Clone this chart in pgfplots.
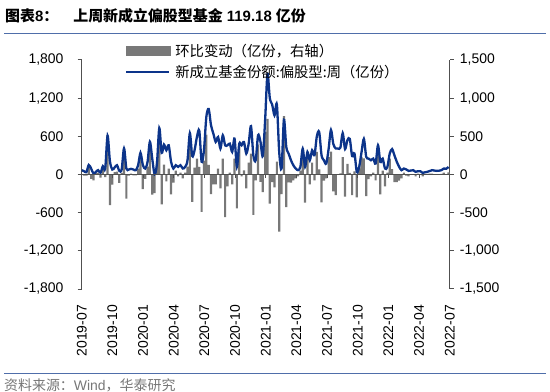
\documentclass[border=0pt]{standalone}
\usepackage{pgfplots}
\pgfplotsset{compat=1.18}
\usepackage{pgfplotstable}
\usepackage{fontspec}
\setmainfont{Liberation Sans}
\newfontfamily\cjk{Noto Sans CJK SC}
\definecolor{navy}{RGB}{12,52,138}
\definecolor{bargrey}{RGB}{120,120,120}
\definecolor{axgrey}{RGB}{80,80,80}
\definecolor{rulecol}{RGB}{79,110,170}
\definecolor{srcgrey}{RGB}{118,118,118}

\pgfplotstableread{
i v d
0 68 0
1 52 -16
2 37 -15
3 150 113
4 94 -56
5 16 -78
6 42 26
7 68 26
8 26 -42
9 130 104
10 94 -36
11 610 516
12 210 -400
13 78 -132
14 110 32
15 146 36
16 57 -110
17 78 21
18 410 332
19 94 -316
20 78 -16
21 89 11
22 78 -11
23 68 -10
24 146 78
25 340 194
26 150 -190
27 94 -56
28 198 104
29 515 317
30 250 -265
31 5 -245
32 172 167
33 730 558
34 340 -390
35 470 130
36 381 -89
37 459 78
38 200 -259
39 94 -106
40 146 52
41 120 -26
42 146 26
43 94 -52
44 120 26
45 224 104
46 650 426
47 290 -360
48 381 91
49 590 209
50 690 100
51 200 -490
52 381 181
53 903 522
54 1030 127
55 773 -257
56 642 -131
57 512 -130
58 590 78
59 407 -183
60 616 209
61 459 -560
62 459 -157
63 485 26
64 355 -130
65 564 209
66 120 -444
67 485 365
68 459 -26
69 512 53
70 329 -183
71 485 156
72 760 275
73 300 -530
74 224 -76
75 616 392
76 520 -96
77 290 -230
78 850 560
79 1580 730
80 1200 -380
81 1100 -100
82 930 -170
83 1100 170
84 350 -750
85 94 -256
86 860 766
87 433 -427
88 329 -104
89 224 -105
90 146 -78
91 94 -52
92 68 -26
93 120 52
94 407 287
95 120 -370
96 355 235
97 224 -131
98 381 157
99 303 -78
100 600 297
101 668 68
102 303 -365
103 224 -79
104 172 -52
105 400 228
106 700 300
107 480 -220
108 410 -270
109 407 -3
110 423 16
111 650 227
112 400 -290
113 540 140
114 560 20
115 290 -270
116 330 40
117 40 -300
118 120 80
119 350 230
120 560 210
121 277 -283
122 250 -60
123 224 -26
124 250 26
125 172 -78
126 460 288
127 198 -262
128 250 52
129 94 -156
130 120 26
131 329 209
132 400 71
133 300 -100
134 200 -100
135 120 -80
136 68 -52
137 94 26
138 80 -14
139 57 -23
140 62 5
141 68 6
142 42 -26
143 52 10
144 52 0
145 26 -26
146 35 9
147 42 7
148 55 13
149 68 13
150 62 -6
151 57 -5
152 60 3
153 68 8
154 94 26
155 90 -4
156 119 29
}\data

\begin{document}
\begin{tikzpicture}
\useasboundingbox (0,0) rectangle (550bp,392bp);
\node[anchor=west, inner sep=0pt, font=\fontsize{15}{18}\selectfont] at (5bp,376bp)
  {{\cjk\bfseries 图表}{\bfseries 8}{\cjk\bfseries ：}\hspace{15bp}{\cjk\bfseries 上周新成立偏股型基金} {\bfseries 119.18} {\cjk\bfseries 亿份}};
\draw[rulecol, line width=1.2bp] (4bp,358.7bp) -- (546bp,358.7bp);
\draw[rulecol, line width=1bp] (4bp,18.4bp) -- (546bp,18.4bp);
\node[anchor=west, inner sep=0pt, text=srcgrey, font=\fontsize{14}{16}\selectfont] at (4bp,7bp)
  {{\cjk 资料来源：}Wind{\cjk ，华泰研究}};

\begin{axis}[
  at={(81.7bp,103bp)}, anchor=south west, width=368bp, height=229bp, scale only axis,
  xmin=0, xmax=156.5, ymin=-1500, ymax=1500,
  axis y line*=right, axis x line=none,
  ybar, bar width=2.2bp,
  ytick={-1500,-1000,-500,0,500,1000,1500},
  yticklabels={{-1,500},{-1,000},{-500},0,500,{1,000},{1,500}},
  y axis line style={axgrey, line width=1bp},
  major tick style={axgrey, line width=1bp},
  tick align=outside, major tick length=4bp,
  yticklabel style={font=\fontsize{14}{16}\selectfont, anchor=west, inner sep=0pt, xshift=6bp},
]
\addplot[fill=bargrey, draw=none] table[x=i,y=d]{\data};
\end{axis}

\begin{axis}[
  at={(81.7bp,103bp)}, anchor=south west, width=368bp, height=229bp, scale only axis,
  xmin=0, xmax=156.5, ymin=-1800, ymax=1800,
  axis y line*=left, axis x line*=bottom,
  x axis line style={draw=none},
  xtick={0,13.04,26.08,39.13,52.17,65.21,78.25,91.29,104.33,117.38,130.42,143.46,156.5},
  xticklabels={2019-07,2019-10,2020-01,2020-04,2020-07,2020-10,2021-01,2021-04,2021-07,2021-10,2022-01,2022-04,2022-07},
  xtick style={draw=none},
  xticklabel style={yshift=-12bp, rotate=90, anchor=east, inner sep=0pt, font=\fontsize{14}{16}\selectfont},
  ytick={-1800,-1200,-600,0,600,1200,1800},
  yticklabels={{-1,800},{-1,200},{-600},0,600,{1,200},{1,800}},
  y axis line style={axgrey, line width=1bp},
  ytick style={axgrey, line width=1bp},
  tick align=outside, major tick length=4bp,
  yticklabel style={font=\fontsize{14}{16}\selectfont, anchor=east, inner sep=0pt, xshift=-14bp},
  legend style={at={(0.1177,1.0686)}, anchor=north west, draw=none, fill=none,
    inner sep=0pt, outer sep=0pt, row sep=7bp,
    font=\cjk\fontsize{14.4}{17}\selectfont, nodes={inner sep=0pt},
    /tikz/every odd column/.append style={column sep=5bp}},
  legend cell align=left,
]
\addlegendimage{legend image code/.code={\fill[bargrey] (0bp,-4.5bp) rectangle (44bp,4.5bp);}}
\addlegendentry{环比变动（亿份，右轴）}
\addplot[navy, line width=2.3bp, smooth, tension=0.5,
  legend image code/.code={\draw[navy, line width=2.3bp] (0bp,0bp) -- (43bp,0bp);}]
  table[x=i,y=v]{\data};
\addlegendentry{新成立基金份额:偏股型:周（亿份）}
\draw[axgrey, line width=1bp] (axis cs:0,0) -- (axis cs:156.5,0);
\pgfplotsinvokeforeach{0,13.04,26.08,39.13,52.17,65.21,78.25,91.29,104.33,117.38,130.42,143.46,156.5}{
  \draw[axgrey, line width=1bp] (axis cs:#1,0) -- ([yshift=-4bp]axis cs:#1,0);
}
\end{axis}
\end{tikzpicture}
\end{document}
